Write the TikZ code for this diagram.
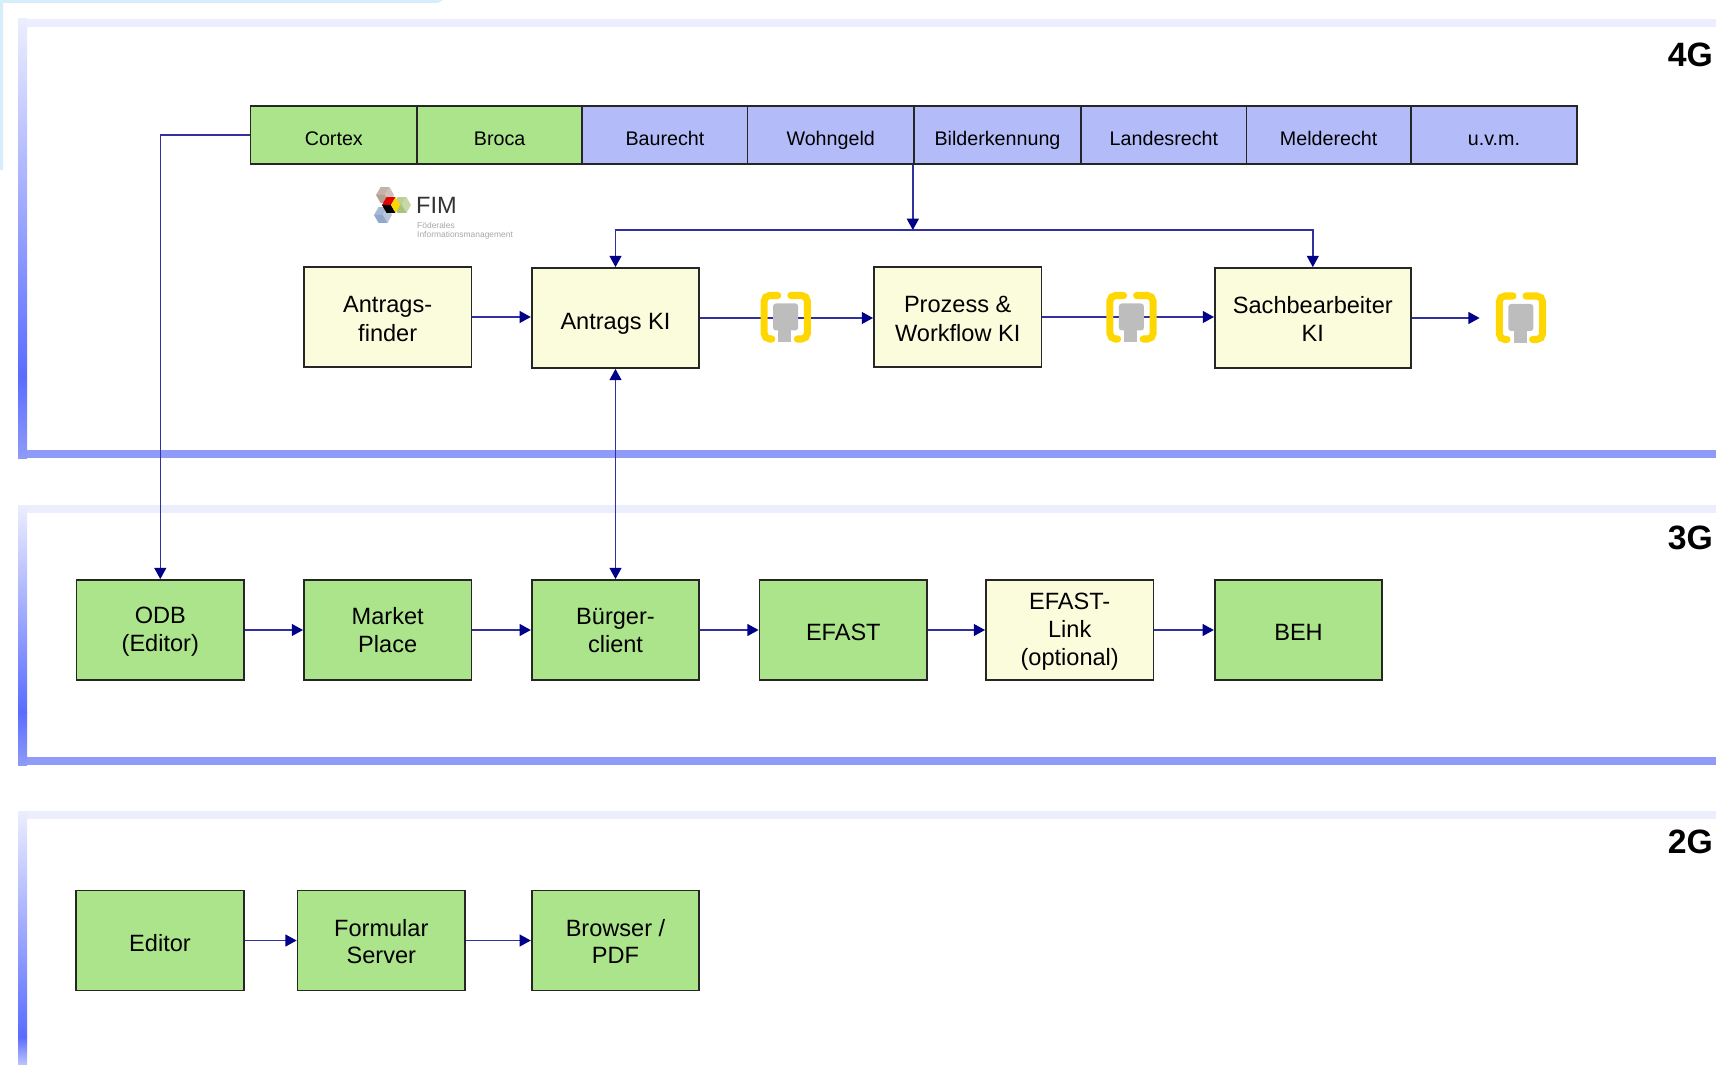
\documentclass[tikz,border=0pt]{standalone}
\usepackage{fontspec}
\setmainfont{Liberation Sans}
\usetikzlibrary{arrows.meta,calc}
\definecolor{boxgreen}{HTML}{ACE48C}
\definecolor{boxcream}{HTML}{FAFCDC}
\definecolor{boxblue}{HTML}{B3BCF9}
\definecolor{connblue}{HTML}{30309F}
\definecolor{tipblue}{HTML}{000088}
\definecolor{paneltop}{HTML}{ECEEFE}
\definecolor{panelstrong}{HTML}{5A6CFF}
\definecolor{panelbottom}{HTML}{8F9BF8}
\definecolor{cornerblue}{HTML}{D6EEFB}
\definecolor{plugyellow}{HTML}{FFD700}
\definecolor{pluggrey}{HTML}{BDBDBD}
\definecolor{fimbrown}{HTML}{B5A094}
\definecolor{fimgreen}{HTML}{A9C47A}
\definecolor{fimblue}{HTML}{92A8CA}
\tikzset{
  textfit/.style={text height=2*(#1),text depth=0pt},
  boxbase/.style={draw=black!85,line width=0.5pt,inner sep=0pt,align=center,
    minimum width=1.675cm,minimum height=1cm,font=\fontsize{6.7}{8}\selectfont},
  greenbox/.style={boxbase,fill=boxgreen},
  creambox/.style={boxbase,fill=boxcream},
  barcell/.style={boxbase,minimum height=.58cm,minimum width=#1,textfit=2.85pt,font=\fontsize{5.6}{6.6}\selectfont},
  tightbox/.style={greenbox,textfit=6.4pt,font=\fontsize{6.7}{7.5}\selectfont},
  genlabel/.style={anchor=east,inner sep=0pt,font=\fontsize{9.6}{11}\selectfont\bfseries},
  conn/.style={connblue,line width=0.4pt,-{Triangle[length=3.2pt,width=3.4pt,color=tipblue]}},
  twoway/.style={conn,{Triangle[length=3.2pt,width=3.4pt,color=tipblue]}-{Triangle[length=3.2pt,width=3.4pt,color=tipblue]}},
  plugicon/.pic={
    \draw[plugyellow,line width=2pt,rounded corners=1.6pt,line cap=round] (-8,-22) -- (-21.7,-22) -- (-21.7,21.5) -- (-14,21.5);
    \draw[plugyellow,line width=2pt,rounded corners=1.6pt,line cap=round] (5,-22) -- (21.5,-22) -- (21.5,21.5) -- (11.5,21.5);
    \fill[pluggrey,rounded corners=0.8pt] (-12.7,-14) rectangle (12.3,13);
    \fill[pluggrey] (-7.4,12) rectangle (5.6,25);
  },
  fimcube/.pic={
    \fill[#1!80!white] (0,0) -- (4.5,-7.8) -- (-4.5,-7.8) -- (-9,0) -- cycle;
    \fill[#1!65!white] (0,0) -- (4.5,-7.8) -- (9,0) -- (4.5,7.8) -- cycle;
    \fill[#1] (0,0) -- (4.5,7.8) -- (-4.5,7.8) -- (-9,0) -- cycle;
  }
}
\begin{document}
\begin{tikzpicture}[x=0.01cm,y=-0.01cm]
\useasboundingbox (0,0) rectangle (1716,1064);
% corner
\fill[cornerblue] (0,0) -- (443,0) -- (438,3) -- (3,3) -- (3,170) -- (0,170) -- cycle;
% panels
\foreach \ptop/\pmid/\pbot in {19/377/458,505/712/765} {
  \fill[paneltop] (18,\ptop) rectangle (1716,\ptop+8);
  \fill[panelbottom] (18,\pbot-8) rectangle (1716,\pbot);
  \shade[top color=paneltop,bottom color=panelstrong] (18,\ptop) rectangle (27,\pmid);
  \shade[top color=panelstrong,bottom color=panelbottom] (18,\pmid) rectangle (27,\pbot);
}
\fill[paneltop] (18,811) rectangle (1716,819);
\shade[top color=paneltop,bottom color=panelstrong] (18,811) rectangle (27,1037);
\shade[top color=panelstrong,bottom color=panelbottom!60!white] (18,1037) rectangle (27,1064);
\node[genlabel] (genfour) at (1713.5,55) {4G};
\node[genlabel] (genthree) at (1713.5,538) {3G};
\node[genlabel] (gentwo) at (1713.5,842) {2G};
% bar
\node[barcell=1.664cm,fill=boxgreen] (cortex) at (333.8,135) {Cortex};
\node[barcell=1.652cm,fill=boxgreen] (broca) at (499.6,135) {Broca};
\node[barcell=1.653cm,fill=boxblue] (baurecht) at (664.9,135) {Baurecht};
\node[barcell=1.663cm,fill=boxblue] (wohngeld) at (830.7,135) {Wohngeld};
\node[barcell=1.675cm,fill=boxblue] (bilder) at (997.5,135) {Bilderkennung};
\node[barcell=1.652cm,fill=boxblue] (landes) at (1163.9,135) {Landesrecht};
\node[barcell=1.642cm,fill=boxblue] (melde) at (1328.6,135) {Melderecht};
\node[barcell=1.663cm,fill=boxblue] (uvm) at (1493.9,135) {u.v.m.};
% fim logo
\pic at (385,195) {fimcube=fimbrown};
\pic at (402,205) {fimcube=fimgreen};
\pic at (383,215) {fimcube=fimblue};
\fill[red!90!black] (391,205) -- (395.5,197.2) -- (386.5,197.2) -- (382,205) -- cycle;
\fill[black] (391,205) -- (382,205) -- (386.5,212.8) -- (395.5,212.8) -- cycle;
\fill[plugyellow] (391,205) -- (395.5,197.2) -- (400,205) -- (395.5,212.8) -- cycle;
\node[anchor=west,inner sep=0pt,text=black!80,font=\fontsize{6.7}{8}\selectfont] (fimname) at (415.5,205.5) {FIM};
\node[anchor=north west,inner sep=0pt,align=left,text=black!35,font=\fontsize{2.4}{2.7}\selectfont] (fimtext) at (416.5,221.5) {Föderales\\Informationsmanagement};
% 4g row
\node[creambox,textfit=6.85pt] (finder) at (387.7,317) {Antrags-\\finder};
\node[creambox,textfit=3.25pt] (antragski) at (615.5,318) {Antrags KI};
\node[creambox,textfit=6.85pt] (prozess) at (957.7,317) {Prozess \&\\Workflow KI};
\node[creambox,minimum width=1.957cm,textfit=6.7pt] (sach) at (1312.8,318) {Sachbearbeiter\\KI};
% 3g row
\node[greenbox,textfit=6.07pt] (odb) at (160.3,630) {ODB\\(Editor)};
\node[greenbox,textfit=6.4pt] (market) at (387.7,630) {Market\\Place};
\node[greenbox,textfit=6.4pt] (buerger) at (615.5,630) {Bürger-\\client};
\node[greenbox,textfit=3pt] (efast) at (843.3,630) {EFAST};
\node[creambox,textfit=10.1pt] (link) at (1069.7,630) {EFAST-\\Link\\(optional)};
\node[greenbox,textfit=3pt] (beh) at (1298.5,630) {BEH};
% 2g row
\node[greenbox,textfit=3pt] (editor) at (160,940.5) {Editor};
\node[tightbox] (formular) at (381.3,940.5) {Formular\\Server};
\node[tightbox] (browser) at (615.5,940.5) {Browser /\\PDF};
% connectors
\coordinate (busline) at (915,230);
\coordinate (plugend) at (1479.6,318);
\draw[conn] (cortex.west) -| (odb.north);
\draw[conn] (bilder.south west) -- (bilder.south west |- busline);
\draw[twoway] (antragski.north) |- (busline) -| (sach.north);
\draw[twoway] (antragski.south) -- (buerger.north);
\draw[conn] (finder.east) -- (finder.east -| antragski.west);
\draw[conn] (antragski.east) -- (antragski.east -| prozess.west);
\draw[conn] (prozess.east) -- (prozess.east -| sach.west);
\draw[conn] (sach.east) -- (plugend);
\draw[conn] (odb) -- (market);
\draw[conn] (market) -- (buerger);
\draw[conn] (buerger) -- (efast);
\draw[conn] (efast) -- (link);
\draw[conn] (link) -- (beh);
\draw[conn] (editor) -- (formular);
\draw[conn] (formular) -- (browser);
% plugs
\pic at (785.8,317.5) {plugicon};
\pic at (1131.6,317.5) {plugicon};
\pic at (1521,318) {plugicon};
\end{tikzpicture}
\end{document}
